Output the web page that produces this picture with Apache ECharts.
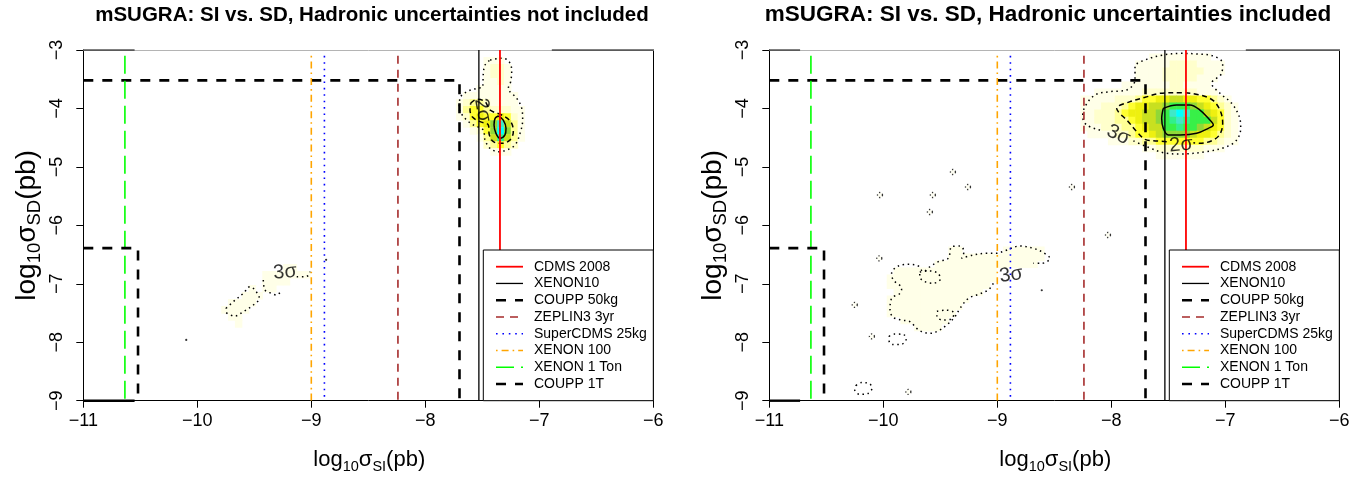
<!DOCTYPE html>
<html><head><meta charset="utf-8">
<script src="https://cdn.jsdelivr.net/npm/echarts@6/dist/echarts.min.js"></script>
<style>html,body{margin:0;padding:0;background:#fff}#c{width:1371px;height:477px}</style>
</head><body><div id="c"></div>
<script>
// ---------------- data ----------------
const xTickValues = [-11, -10, -9, -8, -7, -6];
const yTickValues = [-9, -8, -7, -6, -5, -4, -3];
const panelTitles = ['mSUGRA: SI vs. SD, Hadronic uncertainties not included',
                     'mSUGRA: SI vs. SD, Hadronic uncertainties included'];
const legendNames = ['CDMS 2008', 'XENON10', 'COUPP 50kg', 'ZEPLIN3 3yr',
                     'SuperCDMS 25kg', 'XENON 100', 'XENON 1 Ton', 'COUPP 1T'];
// experimental limits (log10 sigma_SI, log10 sigma_SD)
const cdms2008   = [[-7.345, -3], [-7.345, -9]];
const xenon10    = [[-7.53, -3], [-7.53, -9]];
const coupp50kg  = [[-11, -3.52], [-7.70, -3.52], [-7.70, -9]];
const zeplin3    = [[-8.24, -3.1], [-8.24, -9]];
const superCDMS  = [[-8.885, -3.1], [-8.885, -9]];
const xenon100   = [[-9.0, -3.1], [-9.0, -9]];
const xenon1ton  = [[-10.635, -3.1], [-10.635, -9]];
const coupp1t    = [[-11, -6.39], [-10.52, -6.39], [-10.52, -9]];

// density (posterior) cells: level index into heatColors
const heatColors = ['#FFFFFF', '#FFFFE8', '#FFFFCC', '#FFFF96', '#FFFF30', '#EEF010',
                    '#C8E020', '#90D838', '#38F048', '#30F08C', '#40E8C8', '#00FFFF'];
const cellW = 0.06, cellH = 0.12;

const leftHeatX = [-7.70, -7.64, -7.58, -7.52, -7.46, -7.40, -7.34, -7.28, -7.22, -7.16];
const leftHeatY = [-3.18, -3.30, -3.42, -3.54, -3.66, -3.78, -3.90, -4.02, -4.14, -4.26, -4.38, -4.50, -4.62, -4.74];
const leftHeatLevels = [
  [0,0,0,0,1,1,1,0,0,0],
  [0,0,0,0,1,2,2,1,0,0],
  [0,0,0,0,1,2,2,1,0,0],
  [0,0,0,0,1,1,2,1,0,0],
  [0,0,0,1,1,1,1,1,0,0],
  [0,1,1,1,1,1,1,1,1,0],
  [1,2,3,3,2,1,1,1,1,0],
  [1,3,4,4,3,2,2,2,1,1],
  [1,2,4,5,4,4,5,4,2,1],
  [0,1,3,4,5,7,10,6,3,1],
  [0,0,1,2,4,7,11,7,3,1],
  [0,0,0,1,3,6,9,6,3,1],
  [0,0,0,0,2,3,4,3,2,0],
  [0,0,0,0,0,1,1,1,0,0]
];
const leftLowCells = [
  [-9.22,-6.72,1],[-9.16,-6.72,1],
  [-9.40,-6.84,1],[-9.34,-6.84,1],[-9.28,-6.84,1],[-9.22,-6.84,1],[-9.16,-6.84,1],[-9.10,-6.84,1],[-9.04,-6.84,1],
  [-9.40,-6.96,1],[-9.34,-6.96,1],[-9.28,-6.96,1],[-9.22,-6.96,1],
  [-9.52,-7.08,1],[-9.40,-7.08,1],[-9.34,-7.08,1],
  [-9.58,-7.20,1],[-9.52,-7.20,1],[-9.46,-7.20,1],
  [-9.70,-7.32,1],[-9.64,-7.32,1],[-9.58,-7.32,1],[-9.52,-7.32,1],
  [-9.76,-7.44,1],[-9.70,-7.44,1],[-9.64,-7.44,1],[-9.58,-7.44,1],
  [-9.70,-7.56,1],[-9.64,-7.56,1],
  [-9.64,-7.68,1]
];

const rightHeatX = [-8.24,-8.18,-8.12,-8.06,-8.00,-7.94,-7.88,-7.82,-7.76,-7.70,-7.64,-7.58,
                    -7.52,-7.46,-7.40,-7.34,-7.28,-7.22,-7.16,-7.10,-7.04,-6.98,-6.92];
const rightHeatY = [-3.12,-3.24,-3.36,-3.48,-3.60,-3.72,-3.84,-3.96,-4.08,-4.20,-4.32,-4.44,-4.56,-4.68,-4.80];
const rightHeatLevels = [
  [0,0,0,0,0,0,0,0,0,0,1,1,1,1,1,1,1,1,1,0,0,0,0],
  [0,0,0,0,0,0,0,0,1,1,1,1,1,2,2,2,2,1,1,1,1,0,0],
  [0,0,0,0,0,0,0,0,1,1,1,1,2,2,2,2,2,2,1,1,1,0,0],
  [0,0,0,0,0,0,0,0,1,1,1,1,2,2,2,2,2,1,1,1,0,0,0],
  [0,0,0,0,0,0,1,1,1,1,1,1,1,2,2,1,1,1,1,0,0,0,0],
  [0,0,1,1,1,1,1,1,1,2,2,2,2,2,2,2,2,1,1,1,0,0,0],
  [1,1,1,1,1,2,2,2,3,4,4,5,5,6,6,5,5,4,4,3,2,1,0],
  [1,1,1,2,2,2,3,4,5,5,6,6,7,8,8,8,7,6,5,4,3,2,1],
  [1,1,2,2,2,3,4,5,5,6,6,7,8,10,11,10,8,8,6,5,4,2,1],
  [1,1,2,2,2,3,3,4,5,6,6,7,8,9,10,9,8,8,8,6,4,2,1],
  [1,1,1,2,2,2,3,3,4,5,6,6,8,8,9,8,8,7,6,5,4,2,1],
  [0,1,1,1,1,2,2,3,4,4,5,6,7,7,7,7,6,5,5,4,3,2,1],
  [0,0,0,0,1,1,1,2,2,3,3,4,4,4,4,4,4,4,3,3,2,1,1],
  [0,0,0,0,0,0,0,0,0,1,1,2,2,2,2,2,2,2,1,1,1,0,0],
  [0,0,0,0,0,0,0,0,0,0,0,1,1,1,1,1,1,1,0,0,0,0,0]
];
const rightLowX = [-9.94,-9.88,-9.82,-9.76,-9.70,-9.64,-9.58,-9.52,-9.46,-9.40,-9.34,-9.28,
                   -9.22,-9.16,-9.10,-9.04,-8.98,-8.92,-8.86,-8.80,-8.74,-8.68,-8.62,-8.56];
const rightLowY = [-6.42,-6.54,-6.66,-6.78,-6.90,-7.02,-7.14,-7.26,-7.38,-7.50,-7.62,-7.74];
const rightLowLevels = [
  [0,0,0,0,0,0,0,0,0,1,1,0,0,0,0,0,0,1,1,1,1,1,1,0],
  [0,0,0,0,0,0,0,0,0,1,1,1,1,1,1,1,1,1,1,1,1,1,1,0],
  [0,0,0,0,0,0,0,1,1,1,1,1,1,1,1,1,1,1,1,1,1,1,0,0],
  [0,1,1,1,1,1,1,1,1,1,1,1,1,1,1,1],
  [1,1,1,1,1,1,1,1,1,1,1,1,1,1,1,1],
  [1,1,1,1,1,1,1,1,1,1,1,1,1,1,1],
  [0,1,1,1,1,1,1,1,1,1,1,1,1,1],
  [1,1,1,1,1,1,1,1,1,1,1,1],
  [1,1,1,1,1,1,1,1,1,1,1],
  [1,1,1,1,1,1,1,1,1,1],
  [0,0,1,1,1,1,1,1,1],
  [0,0,0,0,1,1,1,1]
];

// contours: 3 sigma (dotted), 2 sigma (dashed), 1 sigma (solid)
const left3sigma = [[-7.432,-3.171],[-7.330,-3.142],[-7.272,-3.182],[-7.242,-3.342],[-7.251,-3.542],[-7.272,-3.656],
  [-7.198,-3.827],[-7.154,-3.998],[-7.146,-4.198],[-7.169,-4.426],[-7.213,-4.625],[-7.286,-4.711],[-7.359,-4.740],
  [-7.432,-4.682],[-7.476,-4.540],[-7.491,-4.369],[-7.579,-4.283],[-7.652,-4.169],[-7.702,-3.998],[-7.696,-3.827],
  [-7.637,-3.713],[-7.549,-3.656],[-7.497,-3.628],[-7.491,-3.399],[-7.476,-3.257],[-7.432,-3.171]];
const left2sigma = [[-7.602,-3.912],[-7.549,-3.844],[-7.476,-3.884],[-7.432,-4.027],[-7.330,-4.112],[-7.251,-4.226],
  [-7.228,-4.397],[-7.257,-4.540],[-7.330,-4.597],[-7.403,-4.569],[-7.438,-4.454],[-7.447,-4.283],[-7.520,-4.226],
  [-7.584,-4.152],[-7.608,-4.027],[-7.602,-3.912]];
const left1sigma = [[-7.359,-4.129],[-7.316,-4.198],[-7.292,-4.340],[-7.301,-4.454],[-7.345,-4.511],[-7.380,-4.426],
  [-7.397,-4.283],[-7.388,-4.169],[-7.359,-4.129]];
const left3sigmaLowA = [[-9.748,-7.419],[-9.684,-7.306],[-9.596,-7.163],[-9.538,-7.049],[-9.494,-7.106],[-9.456,-7.249],
  [-9.509,-7.363],[-9.596,-7.477],[-9.669,-7.551],[-9.748,-7.477],[-9.748,-7.419]];
const left3sigmaLowB = [[-9.421,-6.935],[-9.406,-7.106],[-9.350,-7.163],[-9.304,-7.192],[-9.260,-7.106]];
const left3sigmaLowC = [[-9.128,-6.878],[-9.060,-6.878],[-9.020,-6.849],[-9.011,-6.792]];
const leftDots = [[-10.097,-7.961],[-8.87,-6.59]];

const right3sigma = [[-8.099,-4.369],[-8.216,-4.283],[-8.251,-4.141],[-8.231,-3.970],[-8.143,-3.770],[-8.011,-3.713],
  [-7.865,-3.684],[-7.792,-3.513],[-7.792,-3.285],[-7.690,-3.160],[-7.544,-3.086],[-7.397,-3.057],[-7.251,-3.068],
  [-7.105,-3.103],[-7.023,-3.228],[-7.032,-3.399],[-7.120,-3.570],[-7.046,-3.741],[-6.944,-3.912],[-6.877,-4.141],
  [-6.865,-4.340],[-6.900,-4.540],[-6.988,-4.654],[-7.163,-4.739],[-7.397,-4.779],[-7.514,-4.768],[-7.690,-4.654],
  [-7.821,-4.540]];
const right2sigma = [[-7.514,-4.568],[-7.631,-4.551],[-7.704,-4.528],[-7.777,-4.397],[-7.851,-4.226],[-7.953,-3.998],
  [-7.836,-3.884],[-7.704,-3.810],[-7.573,-3.741],[-7.397,-3.730],[-7.222,-3.770],[-7.105,-3.867],[-7.041,-4.055],
  [-7.023,-4.255],[-7.046,-4.437],[-7.105,-4.540],[-7.222,-4.597],[-7.280,-4.585]];
const right1sigma = [[-7.544,-3.998],[-7.427,-3.941],[-7.310,-3.941],[-7.222,-4.027],[-7.149,-4.169],[-7.105,-4.283],
  [-7.149,-4.340],[-7.251,-4.426],[-7.397,-4.454],[-7.500,-4.454],[-7.544,-4.340],[-7.558,-4.169],[-7.544,-3.998]];
const right3sigmaLow = [[-9.035,-6.992],[-9.079,-7.106],[-9.181,-7.192],[-9.254,-7.249],[-9.327,-7.420],[-9.371,-7.562],
  [-9.444,-7.705],[-9.532,-7.819],[-9.590,-7.847],[-9.663,-7.819],[-9.707,-7.762],[-9.766,-7.648],[-9.839,-7.619],
  [-9.912,-7.574],[-9.941,-7.448],[-9.927,-7.249],[-9.853,-7.163],[-9.839,-7.078],[-9.912,-6.935],[-9.927,-6.821],
  [-9.868,-6.695],[-9.766,-6.667],[-9.693,-6.695],[-9.649,-6.792],[-9.590,-6.707],[-9.517,-6.621],[-9.430,-6.564],
  [-9.400,-6.365],[-9.327,-6.353],[-9.292,-6.450],[-9.313,-6.564],[-9.210,-6.507],[-9.093,-6.479],[-9.006,-6.479],
  [-8.932,-6.433],[-8.801,-6.353],[-8.684,-6.393],[-8.596,-6.467],[-8.538,-6.564],[-8.611,-6.650],[-8.684,-6.650]];
const rightHole1 = [[-9.68,-6.80],[-9.60,-6.78],[-9.52,-6.82],[-9.50,-6.92],[-9.56,-6.99],[-9.64,-6.96],[-9.68,-6.88],[-9.68,-6.80]];
const rightHole2 = [[-9.53,-7.47],[-9.45,-7.45],[-9.38,-7.50],[-9.40,-7.60],[-9.48,-7.62],[-9.53,-7.56],[-9.53,-7.47]];
const rightLoop1 = [[-9.95,-7.90],[-9.90,-7.86],[-9.82,-7.87],[-9.80,-7.95],[-9.85,-8.04],[-9.92,-8.04],[-9.95,-7.97],[-9.95,-7.90]];
const rightLoop2 = [[-10.24,-8.74],[-10.19,-8.69],[-10.12,-8.71],[-10.10,-8.79],[-10.14,-8.88],[-10.21,-8.89],[-10.25,-8.82],[-10.24,-8.74]];
const rightTinyLoops = [[-10.035,-6.564],[-10.25,-7.36],[-10.10,-7.90],[-9.78,-8.85],[-9.389,-5.087],[-9.257,-5.344],
  [-9.565,-5.481],[-10.029,-5.481],[-9.591,-5.772],[-8.345,-5.344],[-8.029,-6.165]];
const rightDots = [[-8.61,-7.11]];

// contour labels
const leftLabelText = ['2σ', '3σ'];
const leftLabelPos = [[-7.498,-4.027], [-9.23,-6.80]];
const rightLabelText = ['3σ', '2σ', '3σ'];
const rightLabelPos = [[-7.937,-4.454], [-7.388,-4.625], [-8.88,-6.849]];
const labelRotation = {left: [-80, 5], right: [-25, 5, 8]};

// frame artifacts (black segments on top/bottom border)
const leftFrameTop = [[[-11,-3],[-10.55,-3]], [[-6.89,-3],[-6,-3]]];
const leftFrameBottom = [[-11,-9],[-10.55,-9]];
const rightFrameTop = [[[-11,-3],[-10.73,-3]], [[-6.82,-3],[-6,-3]]];
const rightFrameBottom = [[-11,-9],[-10.73,-9]];

// ---------------- styles ----------------
const FONT = '"Liberation Sans", Arial, Helvetica, sans-serif';
const limitStyle = {
  'CDMS 2008':      {color: '#FF0000', width: 1.8, type: 'solid'},
  'XENON10':        {color: '#000000', width: 1.3, type: 'solid'},
  'COUPP 50kg':     {color: '#000000', width: 2.6, type: [10, 9]},
  'ZEPLIN3 3yr':    {color: '#A52A2A', width: 1.6, type: [8, 6]},
  'SuperCDMS 25kg': {color: '#0000FF', width: 1.6, type: [1.6, 4.8]},
  'XENON 100':      {color: '#FFA500', width: 1.6, type: [1.6, 4, 7, 4]},
  'XENON 1 Ton':    {color: '#00FF00', width: 1.6, type: [18, 7]},
  'COUPP 1T':       {color: '#000000', width: 2.6, type: [10, 9]}
};
const limitData = {
  'CDMS 2008': cdms2008, 'XENON10': xenon10, 'COUPP 50kg': coupp50kg, 'ZEPLIN3 3yr': zeplin3,
  'SuperCDMS 25kg': superCDMS, 'XENON 100': xenon100, 'XENON 1 Ton': xenon1ton, 'COUPP 1T': coupp1t
};

const GRID_TOP = 50, GRID_H = 350.7, GRID_W = 570;
const GRID_LEFT = [83.3, 769.3];
const TITLE_X = [372, 1048];
const TITLE_SIZE = [20.5, 22.5];

function gridToCells(xs, ys, levels) {
  const out = [];
  ys.forEach((y, i) => xs.forEach((x, j) => {
    const lv = (levels[i] && levels[i][j]) || 0;
    if (lv > 0) out.push([x, y, lv]);
  }));
  return out;
}

function heatSeries(p, cells) {
  return {
    type: 'custom', xAxisIndex: p, yAxisIndex: p, z: 1, silent: true, clip: true,
    data: cells, encode: {x: 0, y: 1},
    renderItem: function (params, api) {
      const x = api.value(0), y = api.value(1), lv = api.value(2);
      const a = api.coord([x - cellW / 2, y + cellH / 2]);
      const b = api.coord([x + cellW / 2, y - cellH / 2]);
      return {type: 'rect', shape: {x: a[0], y: a[1], width: b[0] - a[0] + 0.6, height: b[1] - a[1] + 0.6},
              style: {fill: heatColors[lv]}};
    }
  };
}

const contourStyle = {
  3: {color: '#000', width: 1.5, type: [1.5, 3.6]},
  2: {color: '#000', width: 1.5, type: [5, 3.5]},
  1: {color: '#000', width: 1.5, type: 'solid'}
};
function contourSeries(p, data, level) {
  return {type: 'line', xAxisIndex: p, yAxisIndex: p, data: data, z: 3, silent: true,
          symbol: 'none', smooth: 0.35, lineStyle: Object.assign({}, contourStyle[level]), animation: false};
}
function limitSeries(p, name) {
  return {type: 'line', name: name, xAxisIndex: p, yAxisIndex: p, data: limitData[name], z: 4, silent: true,
          symbol: 'none', lineStyle: Object.assign({}, limitStyle[name]), animation: false};
}
function labelSeries(p, texts, pos, rots) {
  return {type: 'scatter', xAxisIndex: p, yAxisIndex: p, z: 5, silent: true, symbolSize: 0,
    data: pos.map((v, i) => ({value: v, name: texts[i], label: {rotate: rots[i]}})),
    label: {show: true, position: 'inside', formatter: '{b}', fontFamily: FONT, fontSize: 20, color: '#000'}};
}
function dotSeries(p, pts) {
  return {type: 'scatter', xAxisIndex: p, yAxisIndex: p, z: 5, silent: true, data: pts,
          symbol: 'circle', symbolSize: 2.2, itemStyle: {color: '#000'}};
}
function tinyLoopSeries(p, pts) {
  return {type: 'scatter', xAxisIndex: p, yAxisIndex: p, z: 5, silent: true, data: pts,
          symbol: 'circle', symbolSize: 5,
          itemStyle: {color: 'rgba(255,255,240,0.9)', borderColor: '#000', borderWidth: 1.3, borderType: [1.3, 2.2]}};
}
function frameSeries(p, segs, width) {
  return segs.map(s => ({type: 'line', xAxisIndex: p, yAxisIndex: p, data: s, z: 6, silent: true,
    symbol: 'none', clip: false, lineStyle: {color: '#000', width: width}}));
}

const fmt = v => (v < 0 ? '\u2212' + Math.abs(v) : String(v));

const xAxes = [], yAxes = [];
[0, 1].forEach(p => {
  xAxes.push({gridIndex: p, type: 'value', min: -11, max: -6, interval: 1, position: 'bottom',
    axisLine: {show: true, onZero: false, lineStyle: {color: '#000', width: 1}},
    axisTick: {show: true, length: 7, lineStyle: {color: '#000', width: 1}},
    axisLabel: {show: true, formatter: fmt, fontFamily: FONT, fontSize: 18, color: '#000', margin: 11,
                customValues: xTickValues},
    splitLine: {show: false}});
  yAxes.push({gridIndex: p, type: 'value', min: -9, max: -3, interval: 1, position: 'left',
    axisLine: {show: true, onZero: false, lineStyle: {color: '#000', width: 1}},
    axisTick: {show: true, length: 7, lineStyle: {color: '#000', width: 1}},
    axisLabel: {show: true, formatter: fmt, rotate: 90, fontFamily: FONT, fontSize: 18, color: '#000', margin: 17,
                customValues: yTickValues},
    splitLine: {show: false}});
});
[0, 1].forEach(p => {
  xAxes.push({gridIndex: p, type: 'value', min: -11, max: -6, interval: 1, position: 'top',
    axisLine: {show: true, onZero: false, lineStyle: {color: '#B4B4B4', width: 1}},
    axisTick: {show: false}, axisLabel: {show: false}, splitLine: {show: false}});
  yAxes.push({gridIndex: p, type: 'value', min: -9, max: -3, interval: 1, position: 'right',
    axisLine: {show: true, onZero: false, lineStyle: {color: '#000', width: 1}},
    axisTick: {show: false}, axisLabel: {show: false}, splitLine: {show: false}});
});

const series = [];
// left panel
series.push(heatSeries(0, gridToCells(leftHeatX, leftHeatY, leftHeatLevels).concat(leftLowCells)));
[[left3sigma,3],[left3sigmaLowA,3],[left3sigmaLowB,3],[left3sigmaLowC,3],[left2sigma,2],[left1sigma,1]]
  .forEach(c => series.push(contourSeries(0, c[0], c[1])));
series.push(dotSeries(0, leftDots));
series.push(labelSeries(0, leftLabelText, leftLabelPos, labelRotation.left));
legendNames.forEach(n => series.push(limitSeries(0, n)));
frameSeries(0, leftFrameTop, 1).forEach(s => series.push(s));
frameSeries(0, [leftFrameBottom], 2.4).forEach(s => series.push(s));
// right panel
series.push(heatSeries(1, gridToCells(rightHeatX, rightHeatY, rightHeatLevels)
  .concat(gridToCells(rightLowX, rightLowY, rightLowLevels))));
[[right3sigma,3],[right3sigmaLow,3],[rightHole1,3],[rightHole2,3],[rightLoop1,3],[rightLoop2,3],[right2sigma,2],[right1sigma,1]]
  .forEach(c => series.push(contourSeries(1, c[0], c[1])));
series.push(tinyLoopSeries(1, rightTinyLoops));
series.push(dotSeries(1, rightDots));
series.push(labelSeries(1, rightLabelText, rightLabelPos, labelRotation.right));
legendNames.forEach(n => series.push(limitSeries(1, n)));
frameSeries(1, rightFrameTop, 1).forEach(s => series.push(s));
frameSeries(1, [rightFrameBottom], 2.4).forEach(s => series.push(s));

// ---------------- graphic: titles, axis names, legends ----------------
const graphics = [];
const richX = {
  n: {fontFamily: FONT, fontSize: 22, lineHeight: 28, color: '#000'},
  s: {fontFamily: FONT, fontSize: 14.5, lineHeight: 14, verticalAlign: 'bottom', color: '#000'}
};
const richY = {
  n: {fontFamily: FONT, fontSize: 28, lineHeight: 35, color: '#000'},
  s: {fontFamily: FONT, fontSize: 18.5, lineHeight: 18, verticalAlign: 'bottom', color: '#000'}
};
[0, 1].forEach(p => {
  const cx = GRID_LEFT[p] + GRID_W / 2;
  graphics.push({type: 'text', x: TITLE_X[p], y: 15, z: 20,
    style: {text: panelTitles[p], fontFamily: FONT, fontWeight: 'bold', fontSize: TITLE_SIZE[p],
            fill: '#000', align: 'center', verticalAlign: 'middle'}});
  graphics.push({type: 'text', x: cx + 1, y: 460, z: 20,
    style: {text: '{n|log}{s|10}{n|σ}{s|SI}{n|(pb)}', rich: richX, align: 'center', verticalAlign: 'middle'}});
  graphics.push({type: 'text', x: GRID_LEFT[p] - 56, y: GRID_TOP + GRID_H / 2, rotation: Math.PI / 2, z: 20,
    style: {text: '{n|log}{s|10}{n|σ}{s|SD}{n|(pb)}', rich: richY, align: 'center', verticalAlign: 'middle'}});
  // legend box
  const bx = GRID_LEFT[p] + 400, by = 250, bw = 170, bh = GRID_TOP + GRID_H - 250;
  graphics.push({type: 'rect', z: 30, shape: {x: bx, y: by, width: bw, height: bh},
    style: {fill: '#fff', stroke: '#000', lineWidth: 1}});
  legendNames.forEach((name, i) => {
    const yy = by + 16.7 + i * 16.75;
    const st = limitStyle[name];
    graphics.push({type: 'line', z: 31, shape: {x1: bx + 12.7, y1: yy, x2: bx + 39.7, y2: yy},
      style: {stroke: st.color, lineWidth: st.width, lineDash: st.type === 'solid' ? null : st.type}});
    graphics.push({type: 'text', z: 31, x: bx + 50.7, y: yy,
      style: {text: name, fontFamily: FONT, fontSize: 14, fill: '#000', align: 'left', verticalAlign: 'middle'}});
  });
});

const chart = echarts.init(document.getElementById('c'), null, {renderer: 'canvas'});
chart.setOption({
  animation: false,
  backgroundColor: '#fff',
  grid: [0, 1].map(p => ({left: GRID_LEFT[p], top: GRID_TOP, width: GRID_W, height: GRID_H, containLabel: false})),
  xAxis: xAxes, yAxis: yAxes, series: series, graphic: graphics
});
</script></body></html>
